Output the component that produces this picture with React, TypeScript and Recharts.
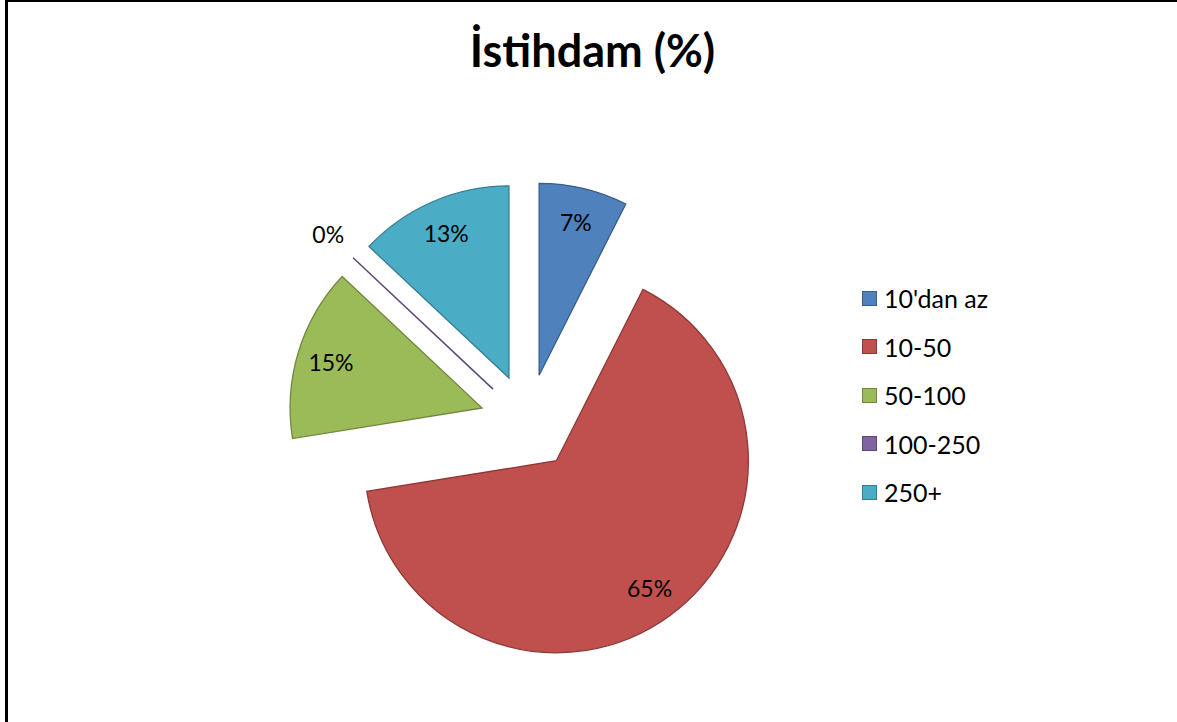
import React from "react";
import { PieChart, Pie, Cell, Legend, Sector } from "recharts";

const categories = ["10'dan az", "10-50", "50-100", "100-250", "250+"];
const shares = [7.45, 65.0, 14.55, 0, 13.0];
const fills = ["#4F81BD", "#C0504D", "#9BBB59", "#8064A2", "#4BACC6"];
const strokes = ["#385D8A", "#8C3836", "#71893F", "#5C4776", "#357D91"];

const data = categories.map((name, i) => ({ name, value: shares[i] }));

const RAD = Math.PI / 180;
const EXPLODE = 48;
const FONT = "Lato, 'Open Sans', sans-serif";

function ExplodedSlice(props: any) {
  const { cx, cy, innerRadius, outerRadius, startAngle, endAngle, midAngle, fill, stroke } = props;
  const ux = Math.cos(-midAngle * RAD);
  const uy = Math.sin(-midAngle * RAD);
  const ox = cx + EXPLODE * ux;
  const oy = cy + EXPLODE * uy;
  if (Math.abs(endAngle - startAngle) < 0.01) {
    return (
      <line x1={ox} y1={oy} x2={ox + outerRadius * ux} y2={oy + outerRadius * uy} stroke={stroke} strokeWidth={1.5} />
    );
  }
  return (
    <Sector
      cx={ox}
      cy={oy}
      innerRadius={innerRadius}
      outerRadius={outerRadius}
      startAngle={startAngle}
      endAngle={endAngle}
      fill={fill}
      stroke={stroke}
      strokeWidth={1.3}
    />
  );
}

function renderLabel(props: any) {
  const { cx, cy, midAngle, outerRadius, percent, value } = props;
  const ux = Math.cos(-midAngle * RAD);
  const uy = Math.sin(-midAngle * RAD);
  const dist = EXPLODE + (value === 0 ? outerRadius + 34 : 158);
  return (
    <text
      x={cx + dist * ux}
      y={cy + dist * uy}
      textAnchor="middle"
      dominantBaseline="central"
      fill="#000"
      fontSize={23}
      fontFamily={FONT}
    >
      {`${Math.round(percent * 100)}%`}
    </text>
  );
}

function LegendList() {
  return (
    <div style={{ fontFamily: FONT, fontSize: 25, color: "#000" }}>
      {categories.map((c, i) => (
        <div key={c} style={{ display: "flex", alignItems: "center", height: 48.5 }}>
          <span
            style={{
              width: 13,
              height: 13,
              background: fills[i],
              border: `1px solid ${strokes[i]}`,
              marginRight: 7,
            }}
          />
          <span>{c}</span>
        </div>
      ))}
    </div>
  );
}

export default function App() {
  return (
    <div style={{ position: "absolute", left: 0, top: 0, width: 1177, height: 722, background: "#fff", overflow: "hidden" }}>
      <div
        style={{
          position: "absolute",
          left: 0,
          width: 1185,
          top: 23,
          textAlign: "center",
          fontFamily: FONT,
          fontWeight: 700,
          fontSize: 45,
          color: "#000",
        }}
      >
        İstihdam (%)
      </div>
      <div style={{ position: "absolute", left: 0, top: 0 }}>
        <PieChart width={1177} height={722} margin={{ top: 0, right: 0, bottom: 0, left: 0 }}>
          <Pie
            data={data}
            dataKey="value"
            nameKey="name"
            cx={528}
            cy={422}
            outerRadius={192}
            startAngle={90}
            endAngle={-270}
            shape={ExplodedSlice}
            label={renderLabel}
            labelLine={false}
            isAnimationActive={false}
          >
            {data.map((d, i) => (
              <Cell key={d.name} fill={fills[i]} stroke={strokes[i]} />
            ))}
          </Pie>
          <Legend
            layout="vertical"
            content={() => <LegendList />}
            wrapperStyle={{ left: 862, top: 274, width: 200 }}
          />
        </PieChart>
      </div>
      <div
        style={{
          position: "absolute",
          left: 5,
          top: 0,
          width: 1172,
          height: 722,
          borderTop: "2px solid #000",
          borderLeft: "3px solid #000",
          boxSizing: "border-box",
          pointerEvents: "none",
        }}
      />
    </div>
  );
}
